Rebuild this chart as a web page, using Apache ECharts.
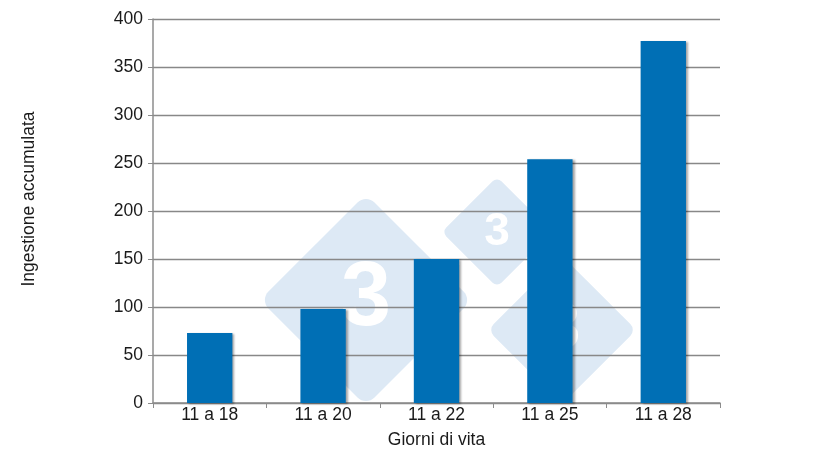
<!DOCTYPE html>
<html>
<head>
<meta charset="utf-8">
<script src="https://cdn.jsdelivr.net/npm/echarts@6/dist/echarts.min.js"></script>
<style>
  html, body { margin: 0; padding: 0; background: #fff; }
  #main { width: 820px; height: 462px; }
</style>
</head>
<body>
<div id="main"></div>
<script>
const categories = ['11 a 18', '11 a 20', '11 a 22', '11 a 25', '11 a 28']
const values = [73, 98, 150, 254, 377]
const yTicks = [0, 50, 100, 150, 200, 250, 300, 350, 400]

const chart = echarts.init(document.getElementById('main'))

// watermark-like logo behind the plot
const mark = (x, y, size, fs) => ([
  {
    type: 'rect', z: -10, x: x, y: y, rotation: Math.PI / 4,
    originX: 0, originY: 0,
    shape: { x: -size / 2, y: -size / 2, width: size, height: size, r: size * 0.08 },
    style: { fill: '#dde9f5' }
  },
  {
    type: 'text', z: -9, x: x, y: y,
    style: { text: '3', fill: '#ffffff', font: 'bold ' + fs + 'px "Liberation Sans", Arial', align: 'center', verticalAlign: 'middle' }
  }
])

const option = {
  animation: false,
  textStyle: { fontFamily: '"Liberation Sans", Arial, sans-serif' },
  grid: { left: 153, right: 100, top: 19, bottom: 59 },
  graphic: [
    ...mark(497, 232, 78, 46),
    ...mark(366, 300, 150, 90),
    ...mark(562, 330, 105, 66)
  ],
  xAxis: {
    type: 'category',
    data: categories,
    name: 'Giorni di vita',
    nameLocation: 'middle',
    nameGap: 28,
    nameTextStyle: { fontSize: 17.5, color: '#1a1a1a' },
    axisLine: { lineStyle: { color: '#8c8c8c', width: 1.5 } },
    axisTick: { show: true, length: 5, alignWithLabel: false, lineStyle: { color: '#8c8c8c' } },
    axisLabel: { fontSize: 17.5, color: '#1a1a1a', margin: 3 }
  },
  yAxis: {
    type: 'value',
    min: yTicks[0],
    max: yTicks[yTicks.length - 1],
    interval: 50,
    name: 'Ingestione accumulata',
    nameLocation: 'middle',
    nameGap: 115,
    nameTextStyle: { fontSize: 17.5, color: '#1a1a1a', padding: [0, 0, 0, 24] },
    axisLine: { show: true, lineStyle: { color: '#8c8c8c', width: 1.5 } },
    axisTick: { show: true, length: 5, lineStyle: { color: '#8c8c8c' } },
    axisLabel: { fontSize: 17.5, color: '#1a1a1a', margin: 10 },
    splitLine: { lineStyle: { color: '#888888', width: 1.3 } }
  },
  series: [{
    type: 'bar',
    data: values,
    barWidth: '40%',
    itemStyle: {
      color: '#006fb5',
      shadowColor: 'rgba(0,0,0,0.35)',
      shadowBlur: 2,
      shadowOffsetX: 2,
      shadowOffsetY: 1
    }
  }]
}

chart.setOption(option)
</script>
</body>
</html>
